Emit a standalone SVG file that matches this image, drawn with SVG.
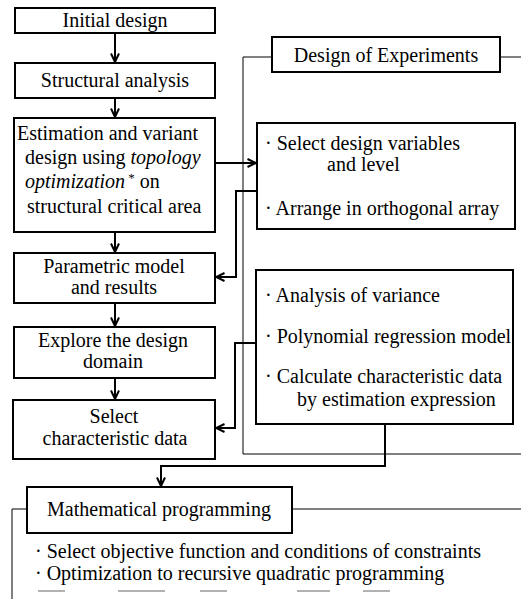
<svg xmlns="http://www.w3.org/2000/svg" width="521" height="599" viewBox="0 0 521 599">
<style>
.box{fill:#fff;stroke:#000;stroke-width:2}
.t{font-family:"Liberation Serif","Times New Roman",serif;font-size:20px;fill:#000}
.c{text-anchor:middle}
.i{font-style:italic}
.con{fill:none;stroke:#000;stroke-width:2}
.thin{fill:none;stroke:#000;stroke-width:1}
.frag{fill:none;stroke:#666;stroke-width:1.2}
</style>
<defs>
<marker id="ah" viewBox="0 0 10 10" refX="9.5" refY="5" markerWidth="10" markerHeight="10" markerUnits="userSpaceOnUse" orient="auto">
<path d="M1,1 L9.5,5 L1,9" fill="none" stroke="#000" stroke-width="2"/>
</marker>
</defs>
<rect width="521" height="599" fill="#fff"/>
<g id="frames">
<path class="thin" d="M272,57 H243 V454 H521 M500,57 H521"/>
<path class="thin" d="M27,509 H12 V599 M292,509 H521"/>
<path class="frag" d="M38,591 H65 M118,591 H165 M200,591 H227 M297,591 H330 M363,591 H390"/>
</g>
<g id="connectors">
<path class="con" d="M115,33 V62" marker-end="url(#ah)"/>
<path class="con" d="M115,98 V117" marker-end="url(#ah)"/>
<path class="con" d="M115,232 V252" marker-end="url(#ah)"/>
<path class="con" d="M115,303 V326" marker-end="url(#ah)"/>
<path class="con" d="M115,378 V399" marker-end="url(#ah)"/>
<path class="con" d="M215,163 H256" marker-end="url(#ah)"/>
<path class="con" d="M257,191 H236 V277 H216" marker-end="url(#ah)"/>
<path class="con" d="M256,343 H235 V428 H216" marker-end="url(#ah)"/>
<path class="con" d="M385,424 V466 H161 V486" marker-end="url(#ah)"/>
</g>
<g id="initial-design">
<rect class="box" x="15" y="8" width="200" height="25"/>
<text class="t c" x="115" y="27">Initial design</text>
</g>
<g id="structural-analysis">
<rect class="box" x="15" y="63" width="200" height="35"/>
<text class="t c" x="115" y="87">Structural analysis</text>
</g>
<g id="estimation">
<rect class="box" x="14" y="118" width="201" height="114"/>
<text class="t" x="17" y="140">Estimation and variant</text>
<text class="t" x="25" y="164">design using <tspan class="i">topology</tspan></text>
<text class="t" x="25" y="188"><tspan class="i">optimization</tspan><tspan font-size="13" dy="-6"> *</tspan><tspan dy="6"> on</tspan></text>
<text class="t" x="27" y="213">structural critical area</text>
</g>
<g id="parametric-model">
<rect class="box" x="14" y="253" width="201" height="50"/>
<text class="t c" x="114" y="273">Parametric model</text>
<text class="t c" x="114" y="294">and results</text>
</g>
<g id="explore">
<rect class="box" x="14" y="327" width="201" height="51"/>
<text class="t c" x="113" y="347">Explore the design</text>
<text class="t c" x="113" y="368">domain</text>
</g>
<g id="select-characteristic">
<rect class="box" x="13" y="400" width="202" height="59"/>
<text class="t c" x="114" y="423">Select</text>
<text class="t c" x="115" y="445">characteristic data</text>
</g>
<g id="design-of-experiments">
<rect class="box" x="272" y="37" width="228" height="35"/>
<text class="t c" x="386" y="62">Design of Experiments</text>
</g>
<g id="select-design-variables">
<rect class="box" x="257" y="123" width="258" height="106"/>
<text class="t" x="265" y="150">· Select design variables</text>
<text class="t" x="327" y="171">and level</text>
<text class="t" x="265" y="215">· Arrange in orthogonal array</text>
</g>
<g id="analysis">
<rect class="box" x="256" y="270" width="257" height="154"/>
<text class="t" x="265" y="302">· Analysis of variance</text>
<text class="t" x="265" y="343">·  Polynomial regression model</text>
<text class="t" x="265" y="383">· Calculate characteristic data</text>
<text class="t" x="297" y="406">by estimation expression</text>
</g>
<g id="mathematical-programming">
<rect class="box" x="27" y="487" width="265" height="46"/>
<text class="t c" x="159" y="516">Mathematical programming</text>
<text class="t" x="35" y="558">· Select objective function and conditions of constraints</text>
<text class="t" x="35" y="580">· Optimization to recursive quadratic programming</text>
</g>
</svg>
